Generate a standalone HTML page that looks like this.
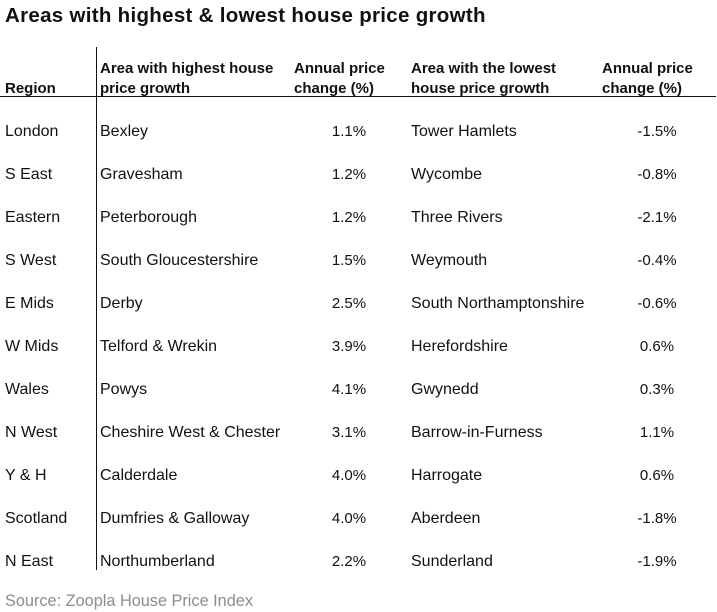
<!DOCTYPE html>
<html>
<head>
<meta charset="utf-8">
<style>
  html, body { margin:0; padding:0; background:#fff; }
  body { width:717px; height:612px; position:relative; overflow:hidden;
         font-family:"Liberation Sans", Arial, sans-serif; color:#111; }
  .t { position:absolute; white-space:nowrap; line-height:20px; height:20px; }
  .title { position:absolute; left:5px; top:4px; font-size:20.5px; font-weight:bold; letter-spacing:0.3px; line-height:24px; color:#111; }
  .h { font-weight:bold; font-size:15px; }
  .r { font-size:16px; }
  .v { font-size:15px; text-align:center; width:80px; }
  .src { position:absolute; left:5px; top:591px; font-size:16.3px; color:#8c8c8c; line-height:20px; }
  .hl { position:absolute; left:0; top:96px; width:716px; height:1px; background:#111; }
  .vl { position:absolute; left:96px; top:47px; width:1px; height:523px; background:#111; }
  .rows { position:absolute; left:0; top:2px; width:717px; height:600px; }
</style>
</head>
<body>
<div class="title">Areas with highest &amp; lowest house price growth</div>
<div class="vl"></div>
<div class="hl"></div>

<div class="rows">
<!-- headers -->
<div class="t h" style="left:5px;top:77px;">Region</div>
<div class="t h" style="left:100px;top:57px;">Area with highest house</div>
<div class="t h" style="left:100px;top:77px;">price growth</div>
<div class="t h" style="left:294px;top:57px;">Annual price</div>
<div class="t h" style="left:294px;top:77px;">change (%)</div>
<div class="t h" style="left:411px;top:57px;">Area with the lowest</div>
<div class="t h" style="left:411px;top:77px;">house price growth</div>
<div class="t h" style="left:602px;top:57px;">Annual price</div>
<div class="t h" style="left:602px;top:77px;">change (%)</div>

<!-- rows -->
<div class="t r" style="left:5px;top:120px;">London</div>
<div class="t r" style="left:100px;top:120px;">Bexley</div>
<div class="t v" style="left:309px;top:120px;">1.1%</div>
<div class="t r" style="left:411px;top:120px;">Tower Hamlets</div>
<div class="t v" style="left:617px;top:120px;">-1.5%</div>

<div class="t r" style="left:5px;top:163px;">S East</div>
<div class="t r" style="left:100px;top:163px;">Gravesham</div>
<div class="t v" style="left:309px;top:163px;">1.2%</div>
<div class="t r" style="left:411px;top:163px;">Wycombe</div>
<div class="t v" style="left:617px;top:163px;">-0.8%</div>

<div class="t r" style="left:5px;top:206px;">Eastern</div>
<div class="t r" style="left:100px;top:206px;">Peterborough</div>
<div class="t v" style="left:309px;top:206px;">1.2%</div>
<div class="t r" style="left:411px;top:206px;">Three Rivers</div>
<div class="t v" style="left:617px;top:206px;">-2.1%</div>

<div class="t r" style="left:5px;top:249px;">S West</div>
<div class="t r" style="left:100px;top:249px;">South Gloucestershire</div>
<div class="t v" style="left:309px;top:249px;">1.5%</div>
<div class="t r" style="left:411px;top:249px;">Weymouth</div>
<div class="t v" style="left:617px;top:249px;">-0.4%</div>

<div class="t r" style="left:5px;top:292px;">E Mids</div>
<div class="t r" style="left:100px;top:292px;">Derby</div>
<div class="t v" style="left:309px;top:292px;">2.5%</div>
<div class="t r" style="left:411px;top:292px;">South Northamptonshire</div>
<div class="t v" style="left:617px;top:292px;">-0.6%</div>

<div class="t r" style="left:5px;top:335px;">W Mids</div>
<div class="t r" style="left:100px;top:335px;">Telford &amp; Wrekin</div>
<div class="t v" style="left:309px;top:335px;">3.9%</div>
<div class="t r" style="left:411px;top:335px;">Herefordshire</div>
<div class="t v" style="left:617px;top:335px;">0.6%</div>

<div class="t r" style="left:5px;top:378px;">Wales</div>
<div class="t r" style="left:100px;top:378px;">Powys</div>
<div class="t v" style="left:309px;top:378px;">4.1%</div>
<div class="t r" style="left:411px;top:378px;">Gwynedd</div>
<div class="t v" style="left:617px;top:378px;">0.3%</div>

<div class="t r" style="left:5px;top:421px;">N West</div>
<div class="t r" style="left:100px;top:421px;">Cheshire West &amp; Chester</div>
<div class="t v" style="left:309px;top:421px;">3.1%</div>
<div class="t r" style="left:411px;top:421px;">Barrow-in-Furness</div>
<div class="t v" style="left:617px;top:421px;">1.1%</div>

<div class="t r" style="left:5px;top:464px;">Y &amp; H</div>
<div class="t r" style="left:100px;top:464px;">Calderdale</div>
<div class="t v" style="left:309px;top:464px;">4.0%</div>
<div class="t r" style="left:411px;top:464px;">Harrogate</div>
<div class="t v" style="left:617px;top:464px;">0.6%</div>

<div class="t r" style="left:5px;top:507px;">Scotland</div>
<div class="t r" style="left:100px;top:507px;">Dumfries &amp; Galloway</div>
<div class="t v" style="left:309px;top:507px;">4.0%</div>
<div class="t r" style="left:411px;top:507px;">Aberdeen</div>
<div class="t v" style="left:617px;top:507px;">-1.8%</div>

<div class="t r" style="left:5px;top:550px;">N East</div>
<div class="t r" style="left:100px;top:550px;">Northumberland</div>
<div class="t v" style="left:309px;top:550px;">2.2%</div>
<div class="t r" style="left:411px;top:550px;">Sunderland</div>
<div class="t v" style="left:617px;top:550px;">-1.9%</div>
</div>

<div class="src">Source: Zoopla House Price Index</div>
</body>
</html>
